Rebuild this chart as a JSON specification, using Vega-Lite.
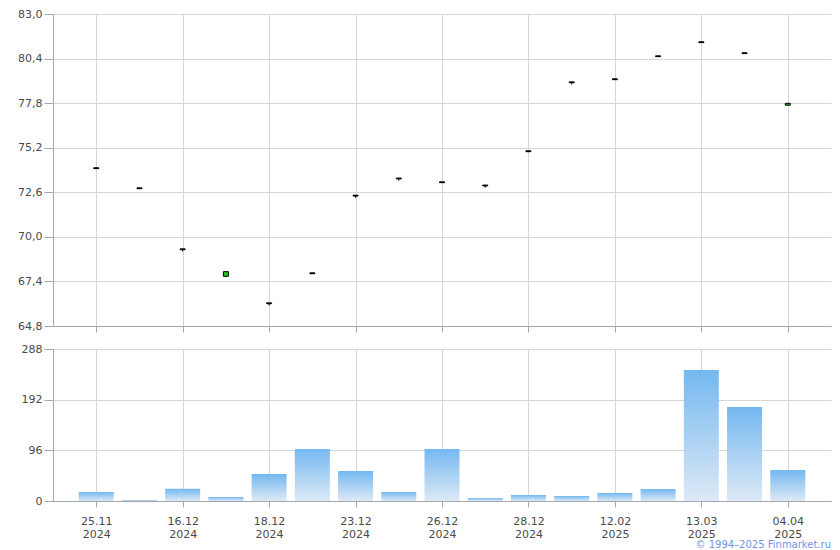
{
  "$schema": "https://vega.github.io/schema/vega-lite/v6.json",
  "background": "white",
  "padding": {"left": 8, "top": 8, "right": 9, "bottom": 0},
  "config": {
    "font": "DejaVu Sans",
    "view": {"stroke": null},
    "axis": {
      "labelFont": "DejaVu Sans",
      "labelFontSize": 11,
      "labelColor": "#4a4a4a",
      "domainColor": "#a3a7ae",
      "tickColor": "#a3a7ae",
      "gridColor": "#d3d7db",
      "gridOpacity": 1,
      "title": null
    }
  },
  "data": {
    "values": [
      {"d": "25.11 2024", "open": 74.03, "close": 73.98, "high": 74.03, "low": 73.98, "vol": 17},
      {"d": "05.12 2024", "open": 72.86, "close": 72.81, "high": 72.86, "low": 72.81, "vol": 2},
      {"d": "16.12 2024", "open": 69.3, "close": 69.25, "high": 69.3, "low": 69.15, "vol": 23},
      {"d": "17.12 2024", "open": 67.7, "close": 67.97, "high": 67.97, "low": 67.7, "vol": 7.6},
      {"d": "18.12 2024", "open": 66.15, "close": 66.1, "high": 66.15, "low": 66.0, "vol": 51},
      {"d": "19.12 2024", "open": 67.9, "close": 67.85, "high": 67.9, "low": 67.85, "vol": 98.5},
      {"d": "23.12 2024", "open": 72.43, "close": 72.38, "high": 72.43, "low": 72.28, "vol": 57},
      {"d": "24.12 2024", "open": 73.43, "close": 73.38, "high": 73.43, "low": 73.28, "vol": 17},
      {"d": "26.12 2024", "open": 73.21, "close": 73.16, "high": 73.21, "low": 73.16, "vol": 98.5},
      {"d": "27.12 2024", "open": 73.02, "close": 72.97, "high": 73.02, "low": 72.87, "vol": 5.7},
      {"d": "28.12 2024", "open": 75.02, "close": 74.97, "high": 75.02, "low": 74.97, "vol": 11.4},
      {"d": "10.02 2025", "open": 79.04, "close": 78.99, "high": 79.04, "low": 78.89, "vol": 9.5},
      {"d": "12.02 2025", "open": 79.22, "close": 79.17, "high": 79.22, "low": 79.17, "vol": 15},
      {"d": "05.03 2025", "open": 80.56, "close": 80.51, "high": 80.56, "low": 80.51, "vol": 22.7},
      {"d": "13.03 2025", "open": 81.38, "close": 81.33, "high": 81.38, "low": 81.33, "vol": 248},
      {"d": "24.03 2025", "open": 80.74, "close": 80.69, "high": 80.74, "low": 80.69, "vol": 178},
      {"d": "04.04 2025", "open": 77.68, "close": 77.79, "high": 77.79, "low": 77.68, "vol": 58.7}
    ]
  },
  "spacing": 10,
  "title": {
    "text": "© 1994–2025 Finmarket.ru",
    "orient": "bottom",
    "anchor": "end",
    "font": "DejaVu Sans",
    "fontSize": 10,
    "fontWeight": "normal",
    "color": "#7393e6",
    "offset": 1
  },
  "vconcat": [
    {
      "width": 778,
      "height": 312,
      "encoding": {
        "x": {
          "field": "d",
          "type": "ordinal",
          "sort": null,
          "scale": {"type": "point", "padding": 1},
          "axis": {
            "values": ["25.11 2024", "16.12 2024", "18.12 2024", "23.12 2024", "26.12 2024", "28.12 2024", "12.02 2025", "13.03 2025", "04.04 2025"],
            "labels": false,
            "ticks": true,
            "tickSize": 6,
            "grid": true,
            "domain": true
          }
        }
      },
      "layer": [
        {
          "mark": {"type": "rule", "color": "#000000", "strokeWidth": 1},
          "encoding": {
            "y": {
              "field": "low",
              "type": "quantitative",
              "scale": {"domain": [64.8, 83.0], "nice": false, "zero": false},
              "axis": {
                "values": [64.8, 67.4, 70.0, 72.6, 75.2, 77.8, 80.4, 83.0],
                "labelExpr": "replace(format(datum.value, '.1f'), '.', ',')",
                "tickSize": 9,
                "labelPadding": 2,
                "minExtent": 45,
                "maxExtent": 45,
                "grid": true,
                "domain": true
              }
            },
            "y2": {"field": "high"}
          }
        },
        {
          "mark": {"type": "bar", "width": 5, "stroke": "#000000", "strokeWidth": 1},
          "encoding": {
            "y": {"field": "open", "type": "quantitative"},
            "y2": {"field": "close"},
            "fill": {
              "condition": {"test": "datum.close > datum.open", "value": "#22c322"},
              "value": "#000000"
            }
          }
        }
      ]
    },
    {
      "width": 778,
      "height": 152,
      "mark": {
        "type": "bar",
        "width": 35,
        "color": {
          "gradient": "linear",
          "x1": 0, "y1": 1, "x2": 0, "y2": 0,
          "stops": [
            {"offset": 0, "color": "#dde9f6"},
            {"offset": 1, "color": "#74b8f0"}
          ]
        }
      },
      "encoding": {
        "x": {
          "field": "d",
          "type": "ordinal",
          "sort": null,
          "scale": {"type": "point", "padding": 1},
          "axis": {
            "values": ["25.11 2024", "16.12 2024", "18.12 2024", "23.12 2024", "26.12 2024", "28.12 2024", "12.02 2025", "13.03 2025", "04.04 2025"],
            "labelExpr": "split(datum.value, ' ')",
            "labelAngle": 0,
            "labelLineHeight": 13,
            "labelPadding": 8,
            "labelBaseline": "top",
            "tickSize": 6,
            "grid": true,
            "domain": true
          }
        },
        "y": {
          "field": "vol",
          "type": "quantitative",
          "scale": {"domain": [0, 288], "nice": false},
          "axis": {
            "values": [0, 96, 192, 288],
            "format": "d",
            "tickSize": 9,
            "labelPadding": 2,
            "minExtent": 45,
            "maxExtent": 45,
            "grid": true,
            "domain": true
          }
        }
      }
    }
  ]
}
